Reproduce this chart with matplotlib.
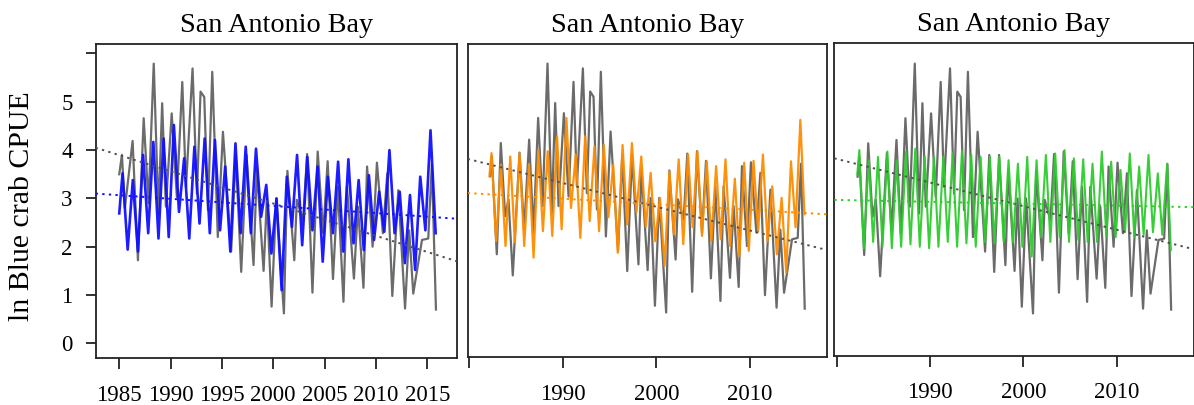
import numpy as np
import matplotlib
matplotlib.use("Agg")
import matplotlib.pyplot as plt

plt.rcParams['font.family'] = ['Liberation Serif', 'DejaVu Serif']

# ---------------- data ----------------
title = "San Antonio Bay"
ylabel = "ln Blue crab CPUE"

# observed ln CPUE, turning points
obs_years_p1_early = [1985.0, 1985.26, 1985.55, 1986.3, 1986.82, 1987.38, 1987.85]
obs_vals_p1_early = [3.5, 3.9, 2.8, 4.19, 1.72, 4.66, 2.9]

obs_years_early = [1982.23, 1982.41, 1982.94, 1983.37, 1983.83, 1984.19, 1984.65,
                   1985.37, 1985.86, 1986.40, 1986.86, 1987.36, 1987.83]
obs_vals_early = [3.45, 3.86, 1.83, 4.14, 2.62, 2.97, 1.39,
                  3.94, 2.34, 4.21, 2.28, 4.66, 2.83]

obs_years = [1988.36, 1988.82, 1989.18, 1989.54, 1990.11, 1990.61, 1991.14, 1991.50,
             1992.14, 1992.57, 1992.92, 1993.28, 1993.64, 1994.06, 1994.60, 1995.10,
             1995.90, 1996.35, 1996.88, 1997.40, 1998.08, 1998.40, 1999.06, 1999.38,
             1999.84, 2000.30, 2001.04, 2001.38, 2002.05, 2002.30, 2002.91, 2003.30,
             2003.82, 2004.33, 2004.87, 2005.30, 2005.82, 2006.29, 2006.84, 2007.18,
             2007.86, 2008.25, 2008.79, 2009.14, 2009.68, 2010.10, 2010.68, 2011.11,
             2011.60, 2012.18, 2012.84, 2013.24, 2013.64, 2014.49, 2015.10, 2015.45,
             2015.85]
obs_vals = [5.79, 2.69, 4.97, 2.83, 4.76, 3.03, 5.41, 3.24,
            5.69, 3.10, 5.21, 5.10, 2.76, 5.62, 2.20, 4.38,
            1.90, 3.90, 1.48, 3.90, 1.62, 3.60, 1.50, 3.00,
            0.76, 3.00, 0.62, 3.57, 1.72, 2.97, 2.55, 3.92,
            1.05, 3.97, 2.28, 3.77, 1.33, 3.24, 0.86, 3.24,
            1.34, 2.83, 1.15, 3.66, 2.00, 3.74, 2.28, 3.52,
            0.98, 3.17, 0.72, 2.34, 1.03, 2.14, 2.17, 3.71,
            0.70]

# model 1 (blue), annual peaks (1985-2015) and troughs (1985-2014)
blue_start = 2.69
blue_peaks = [3.52, 3.38, 3.90, 4.17, 4.24, 4.52, 3.83, 4.07, 4.24, 4.21,
              3.66, 4.14, 4.07, 4.03, 3.28, 3.00, 3.45, 3.90, 3.86, 3.66,
              3.45, 3.76, 3.81, 3.38, 3.48, 3.14, 4.00, 3.14, 3.07, 3.45, 4.41]
blue_troughs = [1.94, 1.90, 2.28, 2.17, 2.20, 2.72, 2.17, 2.48, 2.28, 2.34,
                1.90, 2.28, 2.28, 2.62, 1.86, 1.10, 2.41, 2.03, 2.34, 1.69,
                2.28, 1.90, 2.07, 1.93, 2.14, 2.31, 2.28, 1.66, 1.52, 2.34]
blue_end = 2.28

# model 2 (orange), annual peaks (1982-2015) and troughs (1982-2014)
orange_start = 3.45
orange_peaks = [3.93, 3.69, 3.86, 3.93, 3.70, 4.00, 3.97, 4.28, 4.66, 3.90,
                4.28, 4.07, 4.10, 3.69, 4.10, 4.14, 3.86, 3.52, 3.00, 3.55,
                3.80, 3.90, 3.97, 3.76, 3.66, 3.80, 3.40, 3.73, 3.77, 3.90,
                3.24, 3.00, 3.76, 4.62]
orange_troughs = [2.10, 2.00, 2.08, 2.00, 1.76, 2.31, 2.21, 2.35, 2.79, 2.17,
                  2.52, 2.31, 2.60, 1.86, 2.45, 2.70, 2.40, 2.10, 1.59, 2.24,
                  2.04, 2.39, 2.21, 2.10, 2.14, 2.00, 1.79, 1.90, 2.31, 2.10,
                  1.83, 1.45, 2.39]
orange_end = 2.66

# model 3 (green), annual peaks (1982-2015) and troughs (1982-2014)
green_start = 3.5
green_peaks = [4.00, 3.79, 3.86, 3.97, 3.79, 3.97, 4.03, 3.86, 3.86, 3.86,
               3.93, 3.97, 3.90, 3.86, 3.86, 3.86, 3.79, 3.72, 3.86, 3.79,
               3.90, 3.93, 4.00, 3.83, 3.81, 3.72, 3.97, 3.76, 3.59, 3.93,
               3.66, 3.90, 3.52, 3.72]
green_troughs = [1.97, 2.10, 2.00, 1.97, 2.00, 2.05, 2.00, 1.97, 2.00, 2.10,
                 2.00, 2.07, 2.00, 2.10, 2.07, 2.10, 2.10, 2.00, 1.80, 2.20,
                 2.10, 2.20, 2.10, 2.14, 2.10, 2.10, 2.20, 2.20, 2.30, 2.20,
                 2.25, 2.30, 2.25]
green_end = 1.93

# linear trends: (slope per year, value at 2000)
trend_obs_p1 = (-0.0668, 2.894)
trend_blue = (-0.0148, 2.844)
trend_obs_p2 = (-0.0493, 2.816)
trend_orange = (-0.0115, 2.869)
trend_obs_p3 = (-0.0488, 2.841)
trend_green = (-0.0039, 2.891)

# ---------------- helpers ----------------
def cycle_series(start_t, start_v, first_year, peaks, troughs, peak_ph, trough_ph, end_t, end_v):
    t, v = [start_t], [start_v]
    for i, p in enumerate(peaks):
        t.append(first_year + i + peak_ph)
        v.append(p)
        if i < len(troughs):
            t.append(first_year + i + trough_ph)
            v.append(troughs[i])
    t.append(end_t)
    v.append(end_v)
    return np.array(t), np.array(v)

obs_t_p1 = np.array(obs_years_p1_early + obs_years)
obs_v_p1 = np.array(obs_vals_p1_early + obs_vals)
obs_t = np.array(obs_years_early + obs_years)
obs_v = np.array(obs_vals_early + obs_vals)

blue_t, blue_v = cycle_series(1985.0, blue_start, 1985, blue_peaks, blue_troughs, 0.32, 0.82, 2015.82, blue_end)
orange_t, orange_v = cycle_series(1982.15, orange_start, 1982, orange_peaks, orange_troughs, 0.38, 0.87, 2015.82, orange_end)
green_t, green_v = cycle_series(1982.2, green_start, 1982, green_peaks, green_troughs, 0.42, 0.90, 2015.82, green_end)

GRAY = '#6b6b6b'
TREND_GRAY = '#505050'
BLUE = '#1010ff'
ORANGE = '#ff8c00'
GREEN = '#2ecc2e'

fig = plt.figure(figsize=(11.94, 4.05), dpi=100)
ax1 = fig.add_axes([0.0801, 0.1153, 0.3023, 0.7753])
ax2 = fig.add_axes([0.3917, 0.1178, 0.3007, 0.7728])
ax3 = fig.add_axes([0.6988, 0.1210, 0.3008, 0.7721])

def trend(ax, tr, color, xl):
    xs = np.array(xl)
    ax.plot(xs, tr[1] + tr[0] * (xs - 2000), color=color, lw=1.4,
            ls=(0, (1.2, 2.2)), zorder=4)

panels = [
    (ax1, obs_t_p1, obs_v_p1, blue_t, blue_v, BLUE, 1.9, trend_obs_p1, trend_blue,
     (1982.7, 2017.86), (-0.31, 6.19)),
    (ax2, obs_t, obs_v, orange_t, orange_v, ORANGE, 1.6, trend_obs_p2, trend_orange,
     (1979.83, 2018.2), (-0.31, 6.19)),
    (ax3, obs_t, obs_v, green_t, green_v, GREEN, 1.5, trend_obs_p3, trend_green,
     (1979.74, 2018.25), (-0.26, 6.21)),
]

for ax, ot, ov, mt, mv, col, lw, tro, trm, xl, yl in panels:
    ax.plot(ot, ov, color=GRAY, lw=1.6, zorder=2)
    ax.plot(mt, mv, color=col, lw=lw, zorder=3, alpha=0.95)
    trend(ax, tro, TREND_GRAY, xl)
    trend(ax, trm, col, xl)
    ax.set_xlim(*xl)
    ax.set_ylim(*yl)
    ax.set_title(title, fontsize=20.3, pad=9)
    for s in ax.spines.values():
        s.set_linewidth(1.3)
        s.set_color('#222222')
    ax.tick_params(axis='x', direction='out', length=8, width=1.3, pad=11,
                   labelsize=16.5, color='#222222')

ax1.set_xticks([1985, 1990, 1995, 2000, 2005, 2010, 2015])
ax1.set_xticklabels(['1985', '1990', '1995', '2000', '2005', '2010', '2015'])
ax1.set_yticks([0, 1, 2, 3, 4, 5, 6])
ax1.set_yticklabels(['0', '1', '2', '3', '4', '5', ''])
ax1.tick_params(axis='y', direction='out', length=7.5, width=1.3, pad=9,
                labelsize=16.5, color='#222222')

for ax in (ax2, ax3):
    ax.set_xticks([1980, 1990, 2000, 2010])
    ax.set_xticklabels(['', '1990', '2000', '2010'])
    ax.set_yticks([])

fig.text(0.0184, 0.491, ylabel, rotation=90, ha='center', va='center', fontsize=21.5)

fig.savefig('out.png', dpi=100)
